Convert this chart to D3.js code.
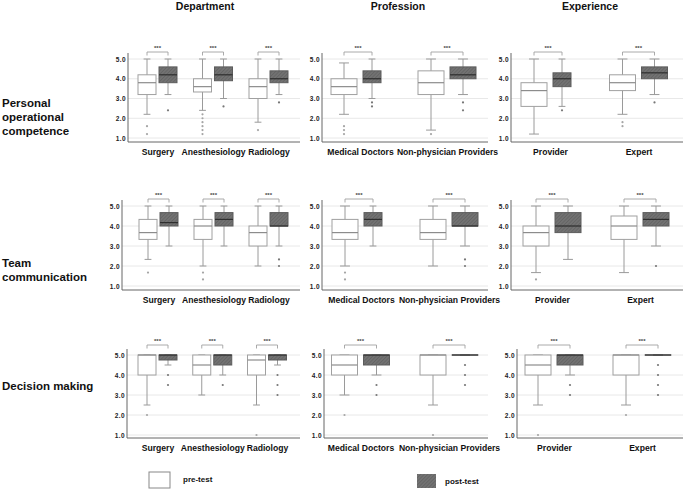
<!DOCTYPE html>
<html>
<head>
<meta charset="utf-8">
<script src="https://cdn.jsdelivr.net/npm/d3@7"></script>
<style>
  body { margin: 0; background: #fff; }
  text { font-family: "Liberation Sans", Arial, sans-serif; }
</style>
</head>
<body>
<svg id="chart" width="685" height="490"></svg>
<script>
////////////////////////////////////////////////////////////////////////////////
// Data
const columns = ['Department', 'Profession', 'Experience'];
const columnCategories = [
  ['Surgery', 'Anesthesiology', 'Radiology'],
  ['Medical Doctors', 'Non-physician Providers'],
  ['Provider', 'Expert'],
];
const rowLabels = [
  ['Personal', 'operational', 'competence'],
  ['Team', 'communication'],
  ['Decision making'],
];
const yTicks = [1, 2, 3, 4, 5];
const phases = ['pre-test', 'post-test'];

// [category, phase, lower whisker, q1, median, q3, upper whisker, outliers]
const competenceStats = [
  ['Surgery', 'pre', 2.2, 3.2, 3.8, 4.2, 5.0, [1.6, 1.2]],
  ['Surgery', 'post', 3.2, 3.8, 4.2, 4.6, 5.0, [2.4]],
  ['Anesthesiology', 'pre', 2.4, 3.33, 3.6, 4.0, 5.0, [2.2, 2.0, 1.8, 1.6, 1.4, 1.2]],
  ['Anesthesiology', 'post', 3.0, 3.9, 4.2, 4.6, 5.0, [2.6]],
  ['Radiology', 'pre', 1.8, 3.0, 3.6, 4.0, 5.0, [1.4]],
  ['Radiology', 'post', 3.2, 3.8, 4.0, 4.4, 5.0, [2.8]],
  ['Medical Doctors', 'pre', 2.2, 3.2, 3.6, 4.0, 4.8, [1.6, 1.4, 1.2]],
  ['Medical Doctors', 'post', 3.0, 3.8, 4.0, 4.4, 5.0, [2.8, 2.6]],
  ['Non-physician Providers', 'pre', 1.4, 3.2, 3.8, 4.4, 5.0, [1.2]],
  ['Non-physician Providers', 'post', 3.2, 4.0, 4.2, 4.6, 5.0, [2.8, 2.4]],
  ['Provider', 'pre', 1.2, 2.6, 3.4, 3.8, 5.0, []],
  ['Provider', 'post', 2.6, 3.6, 4.0, 4.3, 5.0, [2.4]],
  ['Expert', 'pre', 2.2, 3.4, 3.8, 4.2, 5.0, [1.8, 1.6]],
  ['Expert', 'post', 3.2, 4.0, 4.3, 4.6, 5.0, [2.8]],
];

const communicationStats = [
  ['Surgery', 'pre', 2.33, 3.33, 3.67, 4.33, 5.0, [1.67]],
  ['Surgery', 'post', 3.0, 4.0, 4.17, 4.67, 5.0, []],
  ['Anesthesiology', 'pre', 2.0, 3.33, 4.0, 4.33, 5.0, [1.67, 1.33]],
  ['Anesthesiology', 'post', 3.0, 4.0, 4.33, 4.67, 5.0, []],
  ['Radiology', 'pre', 2.0, 3.0, 3.67, 4.0, 5.0, []],
  ['Radiology', 'post', 3.0, 4.0, 4.0, 4.67, 5.0, [2.33, 2.0]],
  ['Medical Doctors', 'pre', 2.0, 3.33, 3.67, 4.33, 5.0, [1.67, 1.33]],
  ['Medical Doctors', 'post', 3.0, 4.0, 4.33, 4.67, 5.0, []],
  ['Non-physician Providers', 'pre', 2.0, 3.33, 3.67, 4.33, 5.0, []],
  ['Non-physician Providers', 'post', 3.0, 4.0, 4.0, 4.67, 5.0, [2.33, 2.0]],
  ['Provider', 'pre', 1.67, 3.0, 3.67, 4.0, 5.0, [1.33]],
  ['Provider', 'post', 2.33, 3.67, 4.0, 4.67, 5.0, []],
  ['Expert', 'pre', 1.67, 3.33, 4.0, 4.5, 5.0, []],
  ['Expert', 'post', 3.0, 4.0, 4.33, 4.67, 5.0, [2.0]],
];

const decisionStats = [
  ['Surgery', 'pre', 2.5, 4.0, 5.0, 5.0, 5.0, [2.0]],
  ['Surgery', 'post', 4.5, 4.75, 5.0, 5.0, 5.0, [4.0, 3.5]],
  ['Anesthesiology', 'pre', 3.0, 4.0, 4.5, 5.0, 5.0, []],
  ['Anesthesiology', 'post', 4.0, 4.5, 5.0, 5.0, 5.0, [3.5]],
  ['Radiology', 'pre', 2.5, 4.0, 4.75, 5.0, 5.0, [1.0]],
  ['Radiology', 'post', 4.5, 4.75, 5.0, 5.0, 5.0, [4.0, 3.5, 3.0]],
  ['Medical Doctors', 'pre', 3.0, 4.0, 4.5, 5.0, 5.0, [2.0]],
  ['Medical Doctors', 'post', 4.0, 4.5, 5.0, 5.0, 5.0, [3.5, 3.0]],
  ['Non-physician Providers', 'pre', 2.5, 4.0, 5.0, 5.0, 5.0, [1.0]],
  ['Non-physician Providers', 'post', 5.0, 5.0, 5.0, 5.0, 5.0, [4.5, 4.0, 3.5]],
  ['Provider', 'pre', 2.5, 4.0, 4.5, 5.0, 5.0, [1.0]],
  ['Provider', 'post', 4.0, 4.5, 5.0, 5.0, 5.0, [3.5, 3.0]],
  ['Expert', 'pre', 2.5, 4.0, 5.0, 5.0, 5.0, [2.0]],
  ['Expert', 'post', 5.0, 5.0, 5.0, 5.0, 5.0, [4.5, 4.0, 3.5, 3.0]],
];

const rowStats = [competenceStats, communicationStats, decisionStats];

////////////////////////////////////////////////////////////////////////////////
// Layout (pixel positions of each panel)
const rowLayout = [
  { top: 59, bottom: 138, base: 142, bracket: 7, labelTop: [107, 121, 135] },
  { top: 206, bottom: 286, base: 290, bracket: 7, labelTop: [267, 281] },
  { top: 355, bottom: 435, base: 438, bracket: 10, labelTop: [390] },
];
const panelLayout = [
  [{ axis: 128, right: 300, centers: [157.5, 268.5] },
   { axis: 322, right: 488, centers: [360, 447] },
   { axis: 511, right: 683, centers: [550, 638.5] }],
  [{ axis: 122, right: 300, centers: [158.5, 268.5] },
   { axis: 322, right: 488, centers: [361, 449] },
   { axis: 511, right: 683, centers: [552, 640] }],
  [{ axis: 127, right: 300, centers: [157.5, 267] },
   { axis: 324, right: 488, centers: [360.5, 449] },
   { axis: 517, right: 683, centers: [554, 642] }],
];
// post-test boxes drawn narrower in the source figure
const narrowPost = ['0-Medical Doctors', '1-Medical Doctors', '0-Provider'];
const headerX = [205, 398, 590];

const svg = d3.select('#chart');

const defs = svg.append('defs');
const hatch = defs.append('pattern')
  .attr('id', 'hatch')
  .attr('patternUnits', 'userSpaceOnUse')
  .attr('width', 2.5)
  .attr('height', 2.5)
  .attr('patternTransform', 'rotate(45)');
hatch.append('rect')
  .attr('width', 2.5).attr('height', 2.5)
  .attr('fill', '#727272');
hatch.append('line')
  .attr('x1', 0).attr('y1', 0).attr('x2', 0).attr('y2', 2.5)
  .attr('stroke', '#5a5a5a').attr('stroke-width', 1);

////////////////////////////////////////////////////////////////////////////////
// Column headers and row labels
svg.selectAll('.header')
  .data(columns)
  .enter()
    .append('text')
    .attr('class', 'header')
    .attr('x', (d, i) => headerX[i])
    .attr('y', 10)
    .attr('text-anchor', 'middle')
    .attr('font-size', 10.5)
    .attr('font-weight', 'bold')
    .attr('fill', '#111')
    .text(d => d);

rowLabels.forEach((lines, r) => {
  svg.append('g')
    .selectAll('text')
    .data(lines)
    .enter()
      .append('text')
      .attr('x', 2)
      .attr('y', (d, i) => rowLayout[r].labelTop[i])
      .attr('font-size', 11.5)
      .attr('font-weight', 'bold')
      .attr('fill', '#111')
      .text(d => d);
});

////////////////////////////////////////////////////////////////////////////////
// Panels
rowLayout.forEach((L, r) => {
  columns.forEach((col, c) => {
    const P = panelLayout[r][c];
    const cats = columnCategories[c];
    const g = svg.append('g').attr('class', 'panel');

    const y = d3.scaleLinear().domain([1, 5]).range([L.bottom, L.top]);
    const x = d3.scalePoint().domain(cats).range(P.centers);

    const bw = cats.length === 3 ? 18 : 26;
    const gap = cats.length === 3 ? 3 : 6;

    // gridlines
    g.selectAll('.grid')
      .data(yTicks)
      .enter()
        .append('line')
        .attr('x1', P.axis).attr('x2', P.right)
        .attr('y1', d => y(d)).attr('y2', d => y(d))
        .attr('stroke', '#e2e2e2')
        .attr('stroke-width', 0.8);

    // boxes
    const stats = rowStats[r].filter(d => cats.includes(d[0]));
    stats.forEach(d => {
      const [cat, phase, lo, q1, med, q3, hi, outliers] = d;
      const isPost = phase === 'post';
      const w = isPost && narrowPost.includes(`${r}-${cat}`) ? 18 : bw;
      const left = isPost ? x(cat) + gap / 2 : x(cat) - gap / 2 - bw;
      const cx = left + w / 2;
      const cap = w * 0.38;
      const b = g.append('g');

      b.append('line')
        .attr('x1', cx).attr('x2', cx)
        .attr('y1', y(lo)).attr('y2', y(hi))
        .attr('stroke', '#9a9a9a').attr('stroke-width', 1);
      [lo, hi].forEach(v => {
        b.append('line')
          .attr('x1', cx - cap / 2).attr('x2', cx + cap / 2)
          .attr('y1', y(v)).attr('y2', y(v))
          .attr('stroke', '#9a9a9a').attr('stroke-width', 1);
      });

      b.append('rect')
        .attr('x', left)
        .attr('y', y(q3))
        .attr('width', w)
        .attr('height', Math.max(0.01, y(q1) - y(q3)))
        .attr('fill', isPost ? 'url(#hatch)' : '#fff')
        .attr('stroke', isPost ? '#5c5c5c' : '#a0a0a0')
        .attr('stroke-width', 1);

      b.append('line')
        .attr('x1', left).attr('x2', left + w)
        .attr('y1', y(med)).attr('y2', y(med))
        .attr('stroke', isPost ? '#2e2e2e' : '#8c8c8c')
        .attr('stroke-width', 1.2);

      b.selectAll('circle')
        .data(outliers)
        .enter()
          .append('circle')
          .attr('cx', cx)
          .attr('cy', v => y(v))
          .attr('r', 1.1)
          .attr('fill', isPost ? '#777' : '#a5a5a5');
    });

    // significance brackets
    cats.forEach(cat => {
      const preX = x(cat) - gap / 2 - bw / 2;
      const postW = narrowPost.includes(`${r}-${cat}`) ? 18 : bw;
      const postX = x(cat) + gap / 2 + postW / 2;
      const top = y(5) - L.bracket;
      g.append('path')
        .attr('d', `M${preX},${top + 3.5}V${top}H${postX}V${top + 3.5}`)
        .attr('fill', 'none')
        .attr('stroke', '#a0a0a0')
        .attr('stroke-width', 0.9);
      g.append('text')
        .attr('x', (preX + postX) / 2)
        .attr('y', top - 2)
        .attr('text-anchor', 'middle')
        .attr('font-size', 6)
        .attr('font-weight', 'bold')
        .attr('fill', '#444')
        .text('***');
    });

    // axes
    const yAxis = g.append('g')
      .attr('transform', `translate(${P.axis},0)`)
      .call(d3.axisLeft(y).tickValues(yTicks).tickFormat(d3.format('.1f')).tickSize(0).tickPadding(2));
    yAxis.select('.domain').remove();
    yAxis.selectAll('text')
      .attr('font-family', '"Liberation Sans", Arial, sans-serif')
      .attr('font-size', 6.5)
      .attr('font-weight', 'bold')
      .attr('letter-spacing', 0.4)
      .attr('fill', '#222');

    const xAxis = g.append('g')
      .attr('transform', `translate(0,${L.base})`)
      .call(d3.axisBottom(x).tickSize(0).tickPadding(7));
    xAxis.select('.domain').remove();
    xAxis.selectAll('text')
      .attr('font-family', '"Liberation Sans", Arial, sans-serif')
      .attr('font-size', 8.6)
      .attr('font-weight', 'bold')
      .attr('fill', '#111');

    g.append('line')
      .attr('x1', P.axis).attr('x2', P.axis)
      .attr('y1', y(5) - 6).attr('y2', L.base)
      .attr('stroke', '#666').attr('stroke-width', 1);
    g.append('line')
      .attr('x1', P.axis).attr('x2', P.right)
      .attr('y1', L.base).attr('y2', L.base)
      .attr('stroke', '#666').attr('stroke-width', 1);
  });
});

////////////////////////////////////////////////////////////////////////////////
// Legend
const legend = svg.append('g').attr('class', 'legend');
const legendX = [149, 417];
const legendText = [183, 445];
legend.selectAll('rect')
  .data(phases)
  .enter()
    .append('rect')
    .attr('x', (d, i) => legendX[i])
    .attr('y', (d, i) => i === 0 ? 472 : 474)
    .attr('width', (d, i) => i === 0 ? 21 : 19)
    .attr('height', (d, i) => i === 0 ? 16 : 14)
    .attr('fill', (d, i) => i === 0 ? '#fff' : 'url(#hatch)')
    .attr('stroke', (d, i) => i === 0 ? '#888' : 'none')
    .attr('stroke-width', 1);
legend.selectAll('text')
  .data(phases)
  .enter()
    .append('text')
    .attr('x', (d, i) => legendText[i])
    .attr('y', (d, i) => i === 0 ? 482 : 484)
    .attr('font-size', 8)
    .attr('font-weight', 'bold')
    .attr('fill', '#111')
    .text(d => d);
</script>
</body>
</html>
